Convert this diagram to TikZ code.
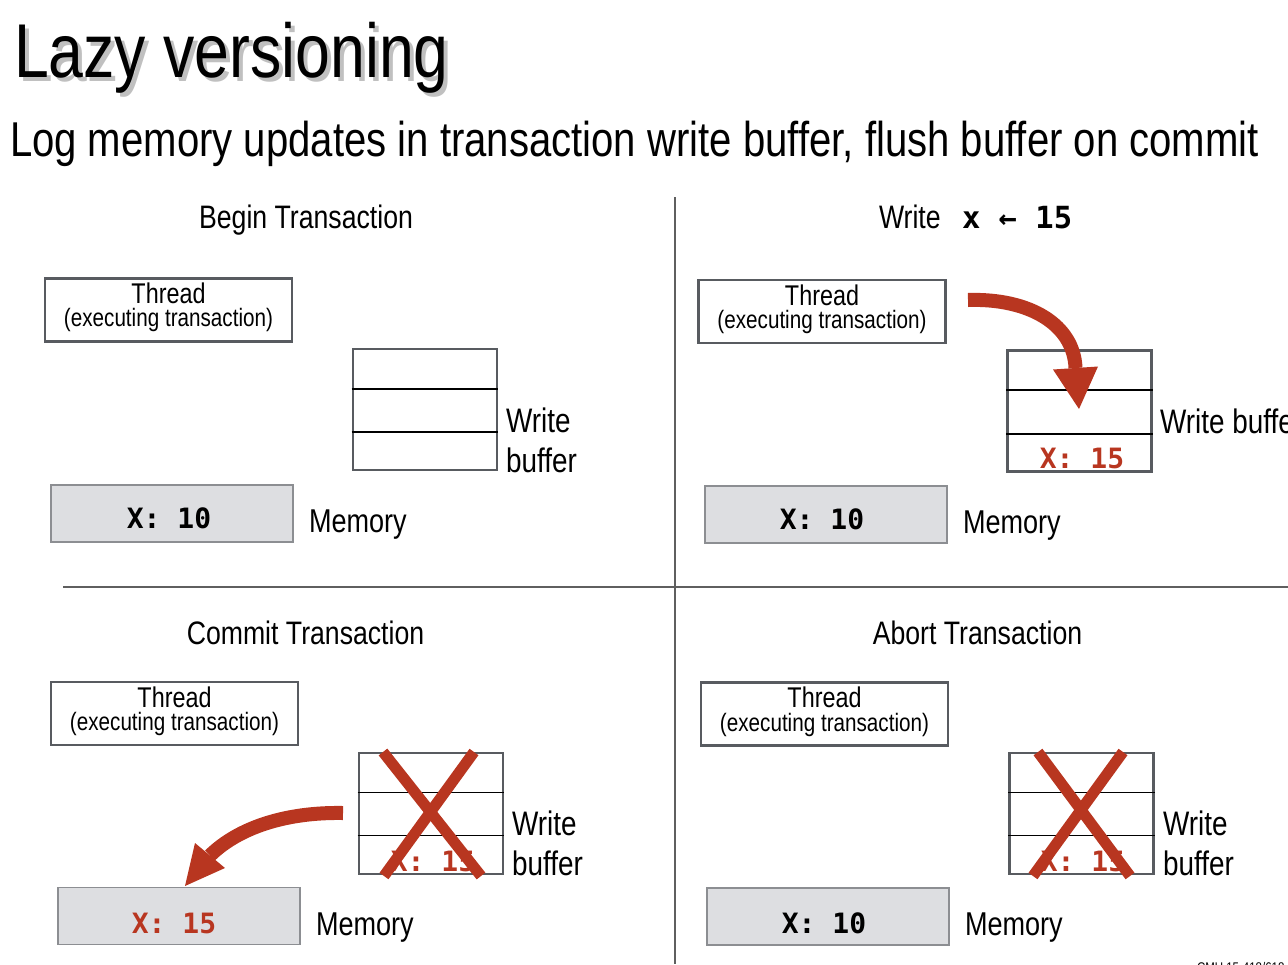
\documentclass[tikz,border=0pt]{standalone}
\usepackage{fontspec}
\setmainfont{Liberation Sans}[FakeStretch=0.82]
\newfontfamily\monofont{DejaVu Sans Mono}
\usetikzlibrary{calc}
\definecolor{ared}{RGB}{184,54,32}
\definecolor{boxgray}{RGB}{88,91,96}
\definecolor{memfill}{RGB}{221,222,225}
\definecolor{memborder}{RGB}{140,142,146}
\definecolor{divgray}{RGB}{95,95,95}
\definecolor{shadowgray}{RGB}{192,192,192}
\begin{document}
\begin{tikzpicture}[x=1pt,y=-1pt,
  txt/.style={inner sep=0pt,outer sep=0pt,anchor=base west},
  ctxt/.style={inner sep=0pt,outer sep=0pt,anchor=base},
  heading/.style={ctxt,font=\fontsize{32.5}{36}\selectfont},
  thtop/.style={ctxt,font=\fontsize{28.5}{30}\selectfont},
  thbot/.style={ctxt,font=\fontsize{25.2}{27}\selectfont},
  lbl/.style={txt,font=\fontsize{34}{36}\selectfont},
  memlbl/.style={txt,font=\fontsize{33}{36}\selectfont},
  monotxt/.style={ctxt,font=\monofont\bfseries\fontsize{28}{30}\selectfont},
  threadbox/.style={draw=boxgray,line width=2.7pt,fill=white,minimum width=247pt,minimum height=63pt,inner sep=0pt},
  buffbox/.style={draw=boxgray,line width=2.7pt,minimum width=144pt,minimum height=121pt,inner sep=0pt},
  membox/.style={draw=memborder,line width=1.5pt,fill=memfill,minimum width=242pt,minimum height=57pt,inner sep=0pt},
  rowline/.style={draw=black,line width=1.8pt},
  crossline/.style={draw=ared,line width=11pt},
  shaft/.style={draw=ared,line width=14pt},
  divider/.style={draw=divgray,line width=1.4pt}
]
\useasboundingbox (0,0) rectangle (1288,964);
\clip (0,0) rectangle (1288,964);

% titles
\node[txt,text=shadowgray,font=\fontsize{76.3}{80}\selectfont] (titlesh) at (18,81) {Lazy versioning};
\node[txt,font=\fontsize{76.3}{80}\selectfont] (title) at (14,77) {Lazy versioning};
\node[txt,font=\fontsize{48.9}{52}\selectfont] (subtitle) at (10,156) {Log memory updates in transaction write buffer, flush buffer on commit};

% dividers
\coordinate (vtop) at (675,197);
\coordinate (vbot) at (675,964);
\coordinate (hl) at (63,587);
\coordinate (hr) at (1288,587);
\draw[divider] (vtop) -- (vbot);
\draw[divider] (hl) -- (hr);

% ---------- panel 1: Begin ----------
\node[heading] (h1) at (306,228) {Begin Transaction};
\node[threadbox] (th1) at (168.5,310) {};
\node[thtop] (th1a) at (168.5,303) {Thread};
\node[thbot] (th1b) at (168.5,326.5) {(executing transaction)};
\node[buffbox] (b1) at (425,409.5) {};
\draw[rowline] ($(b1.north west)!0.335!(b1.south west)$) -- ($(b1.north east)!0.335!(b1.south east)$);
\draw[rowline] ($(b1.north west)!0.68!(b1.south west)$) -- ($(b1.north east)!0.68!(b1.south east)$);
\node[lbl] (w1a) at (506,432) {Write};
\node[lbl] (w1b) at (506,472) {buffer};
\node[membox] (m1) at (172,513.5) {};
\node[monotxt] (m1t) at (169,528) {X: 10};
\node[memlbl] (ml1) at (309,532) {Memory};

% ---------- panel 2: Write ----------
\node[txt,font=\fontsize{32.5}{36}\selectfont] (h2a) at (879,228) {Write};
\node[txt,font=\monofont\bfseries\fontsize{30.5}{32}\selectfont] (h2b) at (962,228) {x ← 15};
\node[threadbox] (th2) at (822,311.5) {};
\node[thtop] (th2a) at (822,305) {Thread};
\node[thbot] (th2b) at (822,328.5) {(executing transaction)};
\node[buffbox] (b2) at (1079.5,411) {};
\draw[rowline] ($(b2.north west)!0.333!(b2.south west)$) -- ($(b2.north east)!0.333!(b2.south east)$);
\draw[rowline] ($(b2.north west)!0.683!(b2.south west)$) -- ($(b2.north east)!0.683!(b2.south east)$);
\node[monotxt,text=ared] (b2t) at (1082,468) {X: 15};
\node[lbl] (w2) at (1160,433) {Write buffer};
\node[membox] (m2) at (826,514.5) {};
\node[monotxt] (m2t) at (822,529) {X: 10};
\node[memlbl] (ml2) at (963,533) {Memory};
% write arrow
\coordinate (a2s) at (968,300);
\coordinate (a2b) at (1075.5,368);
\coordinate (a2t) at (1079,409);
\coordinate (a2l) at (1053,369.5);
\coordinate (a2r) at (1098,366.5);
\draw[shaft] (a2s) .. controls (1030,298) and (1074,325) .. (a2b);
\fill[ared] (a2l) -- (a2r) -- (a2t) -- cycle;

% ---------- panel 3: Commit ----------
\node[heading] (h3) at (305.5,644) {Commit Transaction};
\node[threadbox] (th3) at (174.5,713.5) {};
\node[thtop] (th3a) at (174.5,707) {Thread};
\node[thbot] (th3b) at (174.5,730.5) {(executing transaction)};
\node[buffbox] (b3) at (431,813.5) {};
\draw[rowline] ($(b3.north west)!0.33!(b3.south west)$) -- ($(b3.north east)!0.33!(b3.south east)$);
\draw[rowline] ($(b3.north west)!0.677!(b3.south west)$) -- ($(b3.north east)!0.677!(b3.south east)$);
\node[monotxt,text=ared] (b3t) at (433,871) {X: 15};
\coordinate (c3a) at (383,752);
\coordinate (c3b) at (481,876);
\coordinate (c3c) at (474,752);
\coordinate (c3d) at (384,876);
\draw[crossline] (c3a) -- (c3b);
\draw[crossline] (c3c) -- (c3d);
\node[lbl] (w3a) at (512,835) {Write};
\node[lbl] (w3b) at (512,875) {buffer};
\node[membox] (m3) at (179,916) {};
\node[monotxt,text=ared] (m3t) at (174,933) {X: 15};
\node[memlbl] (ml3) at (316,935) {Memory};
% commit arrow
\coordinate (a3s) at (343,813);
\coordinate (a3b) at (210,855.5);
\coordinate (a3t) at (185,886);
\coordinate (a3l) at (195,843);
\coordinate (a3r) at (225,868);
\draw[shaft] (a3s) .. controls (285,812) and (238,828) .. (a3b);
\fill[ared] (a3l) -- (a3r) -- (a3t) -- cycle;

% ---------- panel 4: Abort ----------
\node[heading] (h4) at (977.5,644) {Abort Transaction};
\node[threadbox] (th4) at (824.5,714) {};
\node[thtop] (th4a) at (824.5,707) {Thread};
\node[thbot] (th4b) at (824.5,731) {(executing transaction)};
\node[buffbox] (b4) at (1081.5,813.5) {};
\draw[rowline] ($(b4.north west)!0.33!(b4.south west)$) -- ($(b4.north east)!0.33!(b4.south east)$);
\draw[rowline] ($(b4.north west)!0.677!(b4.south west)$) -- ($(b4.north east)!0.677!(b4.south east)$);
\node[monotxt,text=ared] (b4t) at (1083,871) {X: 15};
\coordinate (c4a) at (1038,752);
\coordinate (c4b) at (1130,876);
\coordinate (c4c) at (1123,752);
\coordinate (c4d) at (1033,876);
\draw[crossline] (c4a) -- (c4b);
\draw[crossline] (c4c) -- (c4d);
\node[lbl] (w4a) at (1163,835) {Write};
\node[lbl] (w4b) at (1163,875) {buffer};
\node[membox] (m4) at (828,916.5) {};
\node[monotxt] (m4t) at (824,933) {X: 10};
\node[memlbl] (ml4) at (965,935) {Memory};

% footer (clipped)
\node[txt,font=\fontsize{14}{16}\selectfont] (foot) at (1197,972) {CMU 15-418/618};
\end{tikzpicture}
\end{document}
